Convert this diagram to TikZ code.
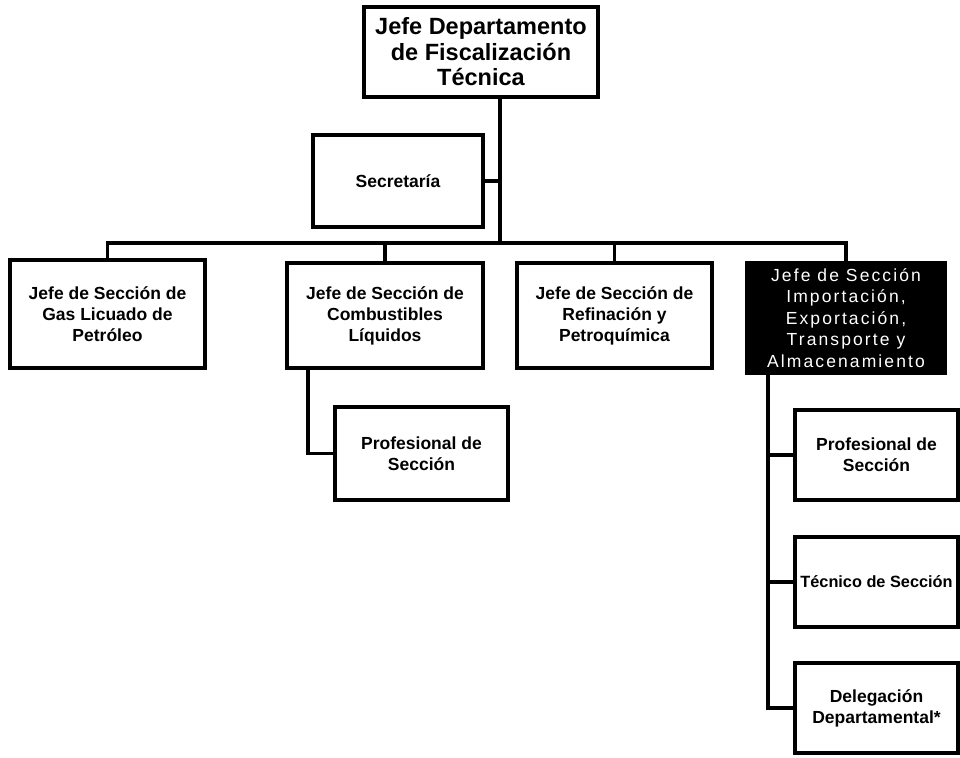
\documentclass[tikz,border=0pt]{standalone}
\usepackage{fontspec}
\setmainfont{Liberation Sans}
\newfontfamily\widefont[LetterSpace=12]{Liberation Sans}
\begin{document}
\begin{tikzpicture}[x=1pt,y=1pt,
  box/.style={draw=black, line width=3.2pt, rectangle, inner sep=0pt, align=center,
    font=\bfseries\fontsize{17.5}{21}\selectfont},
  darkbox/.style={box, fill=black, text=white, font=\widefont\fontsize{17.5}{21.5}\selectfont},
  link/.style={draw=black, line width=3.2pt}]
\useasboundingbox (0,0) rectangle (960,-757);
\node[box, minimum width=234, minimum height=90, font=\bfseries\fontsize{23.5}{25.5}\selectfont]
  (top) at (481,-52) {Jefe Departamento\\de Fiscalización\\Técnica};
\node[box, minimum width=170, minimum height=92] (sec) at (398,-181) {Secretaría};
\node[box, minimum width=195, minimum height=108] (b1) at (107.5,-314) {Jefe de Sección de\\Gas Licuado de\\Petróleo};
\node[box, minimum width=196, minimum height=105] (b2) at (385,-315.5) {Jefe de Sección de\\Combustibles\\Líquidos};
\node[box, minimum width=195, minimum height=105] (b3) at (614.5,-315.5) {Jefe de Sección de\\Refinación y\\Petroquímica};
\node[darkbox, minimum width=198, minimum height=110] (b4) at (846,-318) {Jefe de Sección\\Importación,\\Exportación,\\Transporte y\\Almacenamiento};
\node[box, minimum width=173, minimum height=93] (p2) at (421.5,-453.5) {Profesional de\\Sección};
\node[box, minimum width=163, minimum height=90] (p4) at (876.5,-455) {Profesional de\\Sección};
\node[box, minimum width=163, minimum height=90, font=\bfseries\fontsize{16.3}{21}\selectfont] (t4) at (876.5,-582) {Técnico de Sección};
\node[box, minimum width=163, minimum height=90] (d4) at (876.5,-708) {Delegación\\Departamental*};
% coordinates
\coordinate (trunk) at (500,-243);
\coordinate (busL) at (107.5,-243);
\coordinate (busR) at (846,-243);
\coordinate (v2) at (308,-368);
\coordinate (v2b) at (308,-453.5);
\coordinate (v4) at (768,-373);
\coordinate (v4b) at (768,-708);
% connectors
\draw[link] (top.south -| trunk) -- (trunk);
\draw[link] (sec.east) -- (sec.east -| trunk);
\draw[link, line cap=rect] (busL) -- (busR);
\draw[link] (busL) -- (b1.north);
\draw[link] (b2.north |- trunk) -- (b2.north);
\draw[link] (b3.north |- trunk) -- (b3.north);
\draw[link] (busR) -- (b4.north);
\draw[link] (v2) -- (v2b) -- (p2.west);
\draw[link] (v4) -- (v4b) -- (d4.west);
\draw[link] (p4.west -| v4) -- (p4.west);
\draw[link] (t4.west -| v4) -- (t4.west);
\end{tikzpicture}
\end{document}
